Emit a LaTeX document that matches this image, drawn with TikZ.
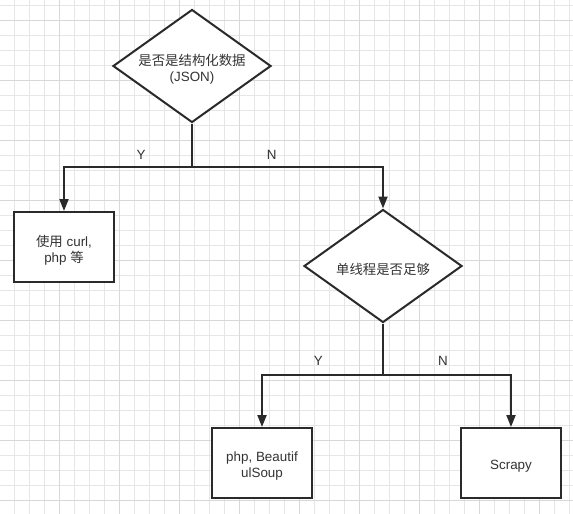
\documentclass[tikz,border=0pt]{standalone}
\usepackage{fontspec}
\setmainfont{Liberation Sans}
\newfontfamily\cjk{Noto Sans CJK SC}
\usetikzlibrary{shapes.geometric,arrows.meta}
\definecolor{ink}{HTML}{2A2A2A}
\definecolor{txt}{HTML}{333333}
\definecolor{gridminor}{HTML}{E6E6E6}
\definecolor{gridmajor}{HTML}{D8D8D8}
\begin{document}
\begin{tikzpicture}[x=1pt,y=-1pt,
  every node/.style={font=\fontsize{13.4}{16}\selectfont, text=txt},
  decision/.style={shape=diamond, draw=ink, line width=2pt, fill=white, inner sep=0pt,
    minimum width=158pt, minimum height=113pt, aspect=1.4},
  procbox/.style={shape=rectangle, draw=ink, line width=2pt, fill=white, inner sep=0pt,
    minimum width=100pt, minimum height=70pt},
  inner/.style={inner sep=0pt, align=center, yshift=-3.5pt},
  conn/.style={draw=ink, line width=2pt},
  arrowconn/.style={conn, -{Triangle[width=9pt,length=12pt]}},
  lbl/.style={inner sep=0pt}
]
\useasboundingbox (0,0) rectangle (573,514);
\fill[white] (0,0) rectangle (573,514);
% grid
\foreach \i in {0,...,38} {\draw[gridminor, line width=0.8pt] ({14.3+15*\i},0) -- ({14.3+15*\i},514);}
\foreach \i in {0,...,34} {\draw[gridminor, line width=0.8pt] (0,{5+15*\i}) -- (573,{5+15*\i});}
\foreach \i in {0,...,9} {\draw[gridmajor, line width=0.8pt] ({59.3+60*\i},0) -- ({59.3+60*\i},514);}
\foreach \i in {0,...,8} {\draw[gridmajor, line width=0.8pt] (0,{20+60*\i}) -- (573,{20+60*\i});}

\node[decision] (d1) at (192,66) {};
\node[procbox] (b1) at (64,247) {};
\node[decision] (d2) at (383,266) {};
\node[procbox] (b2) at (262,463) {};
\node[procbox] (b3) at (511,463) {};

\node[inner] (d1t) at (d1.center) {{\cjk 是否是结构化数据}\\(JSON)};
\node[inner] (b1t) at (b1.center) {{\cjk 使用} curl,\\php {\cjk 等}};
\node[inner] (d2t) at (d2.center) {\cjk 单线程是否足够};
\node[inner] (b2t) at (b2.center) {php, Beautif\\ulSoup};
\node[inner] (b3t) at (b3.center) {Scrapy};

\coordinate (j1) at (192,167);
\coordinate (j2) at (383,375);

\draw[conn] (d1.south) -- (j1);
\draw[arrowconn] (j1) -| (b1.north);
\draw[arrowconn] (j1) -| (d2.north);
\draw[conn] (d2.south) -- (j2);
\draw[arrowconn] (j2) -| (b2.north);
\draw[arrowconn] (j2) -| (b3.north);

\node[lbl] (y1) at (141,155) {Y};
\node[lbl] (n1) at (271.7,155) {N};
\node[lbl] (y2) at (318.3,360.7) {Y};
\node[lbl] (n2) at (443,360.7) {N};
\end{tikzpicture}
\end{document}
